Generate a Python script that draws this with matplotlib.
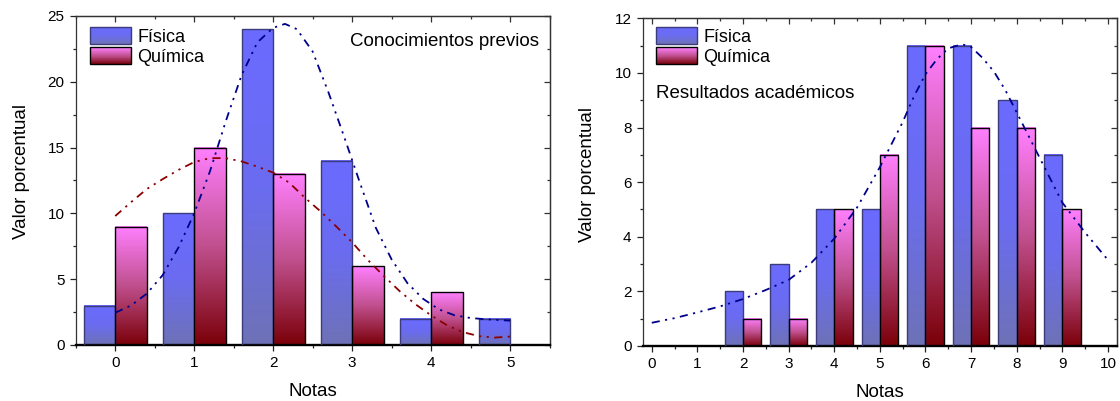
import numpy as np
import matplotlib
matplotlib.use('Agg')
from matplotlib import pyplot as plt
from matplotlib.colors import LinearSegmentedColormap
from matplotlib.patches import Rectangle, Patch
from matplotlib.legend_handler import HandlerBase
from matplotlib.ticker import MultipleLocator

plt.rcParams['font.family'] = ['Liberation Sans', 'DejaVu Sans']

# --- datos: conocimientos previos
notas_prev = [0, 1, 2, 3, 4, 5]
fis_prev = [3, 10, 24, 14, 2, 2]
qui_prev = [9, 15, 13, 6, 4, 0]
# curvas de ajuste
fit_fis_prev_x = [0.0, 0.2, 0.4, 0.6, 0.8, 1.0, 1.2, 1.4, 1.6, 1.8, 2.0, 2.15, 2.3, 2.5,
                  2.7, 2.9, 3.1, 3.3, 3.5, 3.7, 3.9, 4.1, 4.3, 4.5, 4.7, 4.85, 5.0]
fit_fis_prev_y = [2.45, 3.0, 3.9, 5.3, 7.4, 10.0, 13.2, 17.0, 20.5, 23.0, 24.1, 24.4, 24.0, 22.3,
                  19.2, 15.8, 12.3, 8.9, 6.5, 4.7, 3.5, 2.7, 2.25, 2.05, 1.95, 1.9, 1.85]
fit_qui_prev_x = [0.0, 0.2, 0.4, 0.6, 0.8, 1.0, 1.2, 1.4, 1.6, 1.8, 2.0, 2.2, 2.4,
                  2.6, 2.8, 3.0, 3.2, 3.4, 3.6, 3.8, 4.0, 4.2, 4.4, 4.6, 4.8, 5.0]
fit_qui_prev_y = [9.8, 10.85, 11.85, 12.6, 13.3, 13.9, 14.2, 14.2, 13.95, 13.55, 13.1, 12.35, 11.2,
                  10.15, 9.0, 7.8, 6.45, 5.25, 4.1, 3.1, 2.25, 1.5, 0.98, 0.68, 0.56, 0.64]

# --- datos: resultados academicos
notas_res = [0, 1, 2, 3, 4, 5, 6, 7, 8, 9]
fis_res = [0, 0, 2, 3, 5, 5, 11, 11, 9, 7]
qui_res = [0, 0, 1, 1, 5, 7, 11, 8, 8, 5]
fit_fis_res_x = [0.0, 0.5, 1.0, 1.5, 2.0, 2.5, 3.0, 3.5, 4.0, 4.5, 5.0, 5.5, 5.75, 6.0, 6.25,
                 6.5, 6.8, 7.0, 7.25, 7.5, 7.75, 8.0, 8.5, 9.0, 9.5, 10.0]
fit_fis_res_y = [0.85, 1.02, 1.23, 1.45, 1.72, 2.05, 2.42, 3.05, 3.93, 5.07, 6.55, 8.2, 9.15, 9.95, 10.5,
                 10.9, 11.05, 10.95, 10.55, 10.05, 9.37, 8.55, 6.9, 5.25, 4.15, 3.15]

cm_fis = LinearSegmentedColormap.from_list('fis', ['#6e72b6', '#6a6cf0', '#6b6bff'])
cm_qui = LinearSegmentedColormap.from_list('qui', ['#7a0008', '#c0508e', '#ff80ff'])
edge_fis = '#3c3c7a'
edge_qui = 'black'
grad = np.linspace(0, 1, 256).reshape(-1, 1)


def gbars(ax, xs, vals, x_off, cmap, edge, w=0.4):
    for x, v in zip(xs, vals):
        if v <= 0:
            continue
        x0 = x + x_off
        ax.imshow(grad, extent=[x0, x0 + w, 0, v], origin='lower', aspect='auto',
                  cmap=cmap, zorder=2, interpolation='bilinear')
        ax.add_patch(Rectangle((x0, 0), w, v, fill=False, edgecolor=edge, lw=1.0, zorder=3))


class GradHandler(HandlerBase):
    def __init__(self, cmap, edge):
        super().__init__()
        self.cmap = cmap
        self.edge = edge

    def create_artists(self, legend, orig_handle, xdescent, ydescent, width, height, fontsize, trans):
        arts = []
        n = 40
        for i in range(n):
            arts.append(Rectangle((-xdescent, -ydescent + height * i / n), width, height / n * 1.05,
                                  facecolor=self.cmap(i / (n - 1)), edgecolor='none', transform=trans))
        arts.append(Rectangle((-xdescent, -ydescent), width, height, fill=False,
                              edgecolor=self.edge, lw=1.0, transform=trans))
        return arts


def style(ax, xmaj, xmin, ymaj, ymin):
    ax.xaxis.set_major_locator(MultipleLocator(xmaj))
    ax.xaxis.set_minor_locator(MultipleLocator(xmin))
    ax.yaxis.set_major_locator(MultipleLocator(ymaj))
    ax.yaxis.set_minor_locator(MultipleLocator(ymin))
    ax.tick_params(which='both', direction='out', top=False, right=False, labelsize=11,
                   color='#222222', width=0.9)
    ax.tick_params(which='major', length=4, pad=4)
    ax.tick_params(which='minor', length=2)
    for s in ['left', 'top', 'right']:
        ax.spines[s].set_linewidth(0.9)
        ax.spines[s].set_color('#333333')
    ax.spines['bottom'].set_linewidth(1.7)
    ax.spines['bottom'].set_color('black')
    # ticks hacia adentro arriba y a la derecha
    sec_x = ax.secondary_xaxis('top')
    sec_x.xaxis.set_major_locator(MultipleLocator(xmaj))
    sec_x.xaxis.set_minor_locator(MultipleLocator(xmin))
    sec_x.tick_params(which='both', direction='in', labeltop=False, color='#333333', width=0.9)
    sec_x.tick_params(which='major', length=4)
    sec_x.tick_params(which='minor', length=2)
    sec_x.spines['top'].set_linewidth(0.9)
    sec_x.spines['top'].set_color('#333333')
    sec_y = ax.secondary_yaxis('right')
    sec_y.yaxis.set_major_locator(MultipleLocator(ymaj))
    sec_y.yaxis.set_minor_locator(MultipleLocator(ymin))
    sec_y.tick_params(which='both', direction='in', labelright=False, color='#333333', width=0.9)
    sec_y.tick_params(which='major', length=4)
    sec_y.tick_params(which='minor', length=2)
    sec_y.spines['right'].set_linewidth(0.9)
    sec_y.spines['right'].set_color('#333333')


def leyenda(ax, anchor):
    p1 = Patch(label='Física')
    p2 = Patch(label='Química')
    ax.legend(handles=[p1, p2], handler_map={p1: GradHandler(cm_fis, edge_fis), p2: GradHandler(cm_qui, edge_qui)},
              loc='upper left', bbox_to_anchor=anchor, frameon=False, fontsize=13,
              handlelength=2.27, handleheight=1.1, handletextpad=0.36, labelspacing=0.08,
              borderpad=0, borderaxespad=0)


ls_fit = (0, (4.5, 3, 1.2, 3, 1.2, 3))

fig = plt.figure(figsize=(11.2, 4.01), dpi=100)

# panel izquierdo
ax1 = fig.add_axes([0.0676, 0.1397, 0.4231, 0.8204])
gbars(ax1, notas_prev, fis_prev, -0.4, cm_fis, edge_fis)
gbars(ax1, notas_prev, qui_prev, 0.0, cm_qui, edge_qui)
ax1.plot(fit_fis_prev_x, fit_fis_prev_y, color='#00008b', lw=1.3, ls=ls_fit, zorder=4)
ax1.plot(fit_qui_prev_x, fit_qui_prev_y, color='#8b0000', lw=1.3, ls=ls_fit, zorder=4)
ax1.set_xlim(-0.5, 5.5)
ax1.set_ylim(0, 25)
style(ax1, 1, 0.5, 5, 2.5)
ax1.set_xlabel('Notas', fontsize=13.5, labelpad=9)
ax1.set_ylabel('Valor porcentual', fontsize=13.5, labelpad=13)
ax1.yaxis.label.set_y(0.526)
ax1.text(0.978, 0.924, 'Conocimientos previos', transform=ax1.transAxes, ha='right', va='center', fontsize=13.5)
leyenda(ax1, (0.030, 0.967))

# panel derecho
ax2 = fig.add_axes([0.5738, 0.1372, 0.4236, 0.8172])
gbars(ax2, notas_res, fis_res, -0.4, cm_fis, edge_fis)
gbars(ax2, notas_res, qui_res, 0.0, cm_qui, edge_qui)
ax2.plot(fit_fis_res_x, fit_fis_res_y, color='#00008b', lw=1.3, ls=ls_fit, zorder=4)
ax2.set_xlim(-0.2, 10.2)
ax2.set_ylim(0, 12)
style(ax2, 1, 0.5, 2, 1)
ax2.set_xlabel('Notas', fontsize=13.5, labelpad=9)
ax2.set_ylabel('Valor porcentual', fontsize=13.5, labelpad=13)
ax2.yaxis.label.set_y(0.522)
ax2.text(0.028, 0.772, 'Resultados académicos', transform=ax2.transAxes, ha='left', va='center', fontsize=13.5)
leyenda(ax2, (0.028, 0.974))

fig.savefig('out.png', dpi=100)
